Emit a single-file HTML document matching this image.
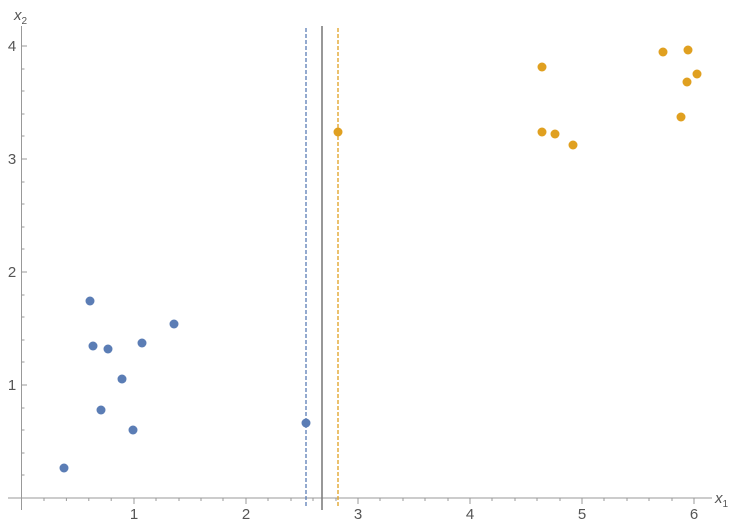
<!DOCTYPE html>
<html><head><style>body{margin:0;background:#fff}svg{display:block}text{font-family:"Liberation Sans",sans-serif;fill:#555}</style></head><body>
<svg width="750" height="525" viewBox="0 0 750 525">
<g stroke="#999" stroke-width="1">
<line x1="8" y1="498" x2="712" y2="498"/>
<line x1="21.5" y1="26" x2="21.5" y2="510"/>
</g>
<g stroke="#999" stroke-width="1" id="ticks"></g>
<g font-size="15" text-anchor="middle">
<text x="134" y="519">1</text><text x="246" y="519">2</text><text x="358" y="519">3</text><text x="470" y="519">4</text><text x="582" y="519">5</text><text x="694" y="519">6</text>
<text x="12" y="390">1</text><text x="12" y="277">2</text><text x="12" y="164">3</text><text x="12" y="51">4</text>
</g>
<text x="14" y="20" font-size="15" font-style="italic">x<tspan font-size="10" dy="4" font-style="normal">2</tspan></text>
<text x="715" y="503" font-size="15" font-style="italic">x<tspan font-size="10" dy="4" font-style="normal">1</tspan></text>
<line x1="306" y1="28" x2="306" y2="508" stroke="#5b7db5" stroke-width="1.3" stroke-dasharray="4,2"/>
<line x1="322" y1="26" x2="322" y2="510" stroke="#777" stroke-width="1.5"/>
<line x1="338" y1="28" x2="338" y2="508" stroke="#e0a020" stroke-width="1.3" stroke-dasharray="4,2"/>
<g fill="#5b7db5">
<circle cx="64" cy="468" r="4.5"/><circle cx="90" cy="301" r="4.5"/><circle cx="93" cy="346" r="4.5"/><circle cx="108" cy="349" r="4.5"/><circle cx="142" cy="343" r="4.5"/><circle cx="174" cy="324" r="4.5"/><circle cx="122" cy="379" r="4.5"/><circle cx="101" cy="410" r="4.5"/><circle cx="133" cy="430" r="4.5"/><circle cx="306" cy="423" r="4.5"/>
</g>
<g fill="#e0a020">
<circle cx="338" cy="132" r="4.5"/><circle cx="542" cy="67" r="4.5"/><circle cx="542" cy="132" r="4.5"/><circle cx="555" cy="134" r="4.5"/><circle cx="573" cy="145" r="4.5"/><circle cx="663" cy="52" r="4.5"/><circle cx="688" cy="50" r="4.5"/><circle cx="697" cy="74" r="4.5"/><circle cx="687" cy="82" r="4.5"/><circle cx="681" cy="117" r="4.5"/>
</g>
<g stroke="#999" stroke-width="1">
<line x1="134" y1="498" x2="134" y2="504"/><line x1="246" y1="498" x2="246" y2="504"/><line x1="358" y1="498" x2="358" y2="504"/><line x1="470" y1="498" x2="470" y2="504"/><line x1="582" y1="498" x2="582" y2="504"/><line x1="694" y1="498" x2="694" y2="504"/>
<line x1="44" y1="498" x2="44" y2="501"/><line x1="66.4" y1="498" x2="66.4" y2="501"/><line x1="88.8" y1="498" x2="88.8" y2="501"/><line x1="111.2" y1="498" x2="111.2" y2="501"/>
<line x1="156" y1="498" x2="156" y2="501"/><line x1="179" y1="498" x2="179" y2="501"/><line x1="201" y1="498" x2="201" y2="501"/><line x1="223" y1="498" x2="223" y2="501"/>
<line x1="268" y1="498" x2="268" y2="501"/><line x1="291" y1="498" x2="291" y2="501"/><line x1="313" y1="498" x2="313" y2="501"/><line x1="336" y1="498" x2="336" y2="501"/>
<line x1="380" y1="498" x2="380" y2="501"/><line x1="403" y1="498" x2="403" y2="501"/><line x1="425" y1="498" x2="425" y2="501"/><line x1="448" y1="498" x2="448" y2="501"/>
<line x1="492" y1="498" x2="492" y2="501"/><line x1="515" y1="498" x2="515" y2="501"/><line x1="537" y1="498" x2="537" y2="501"/><line x1="560" y1="498" x2="560" y2="501"/>
<line x1="604" y1="498" x2="604" y2="501"/><line x1="627" y1="498" x2="627" y2="501"/><line x1="649" y1="498" x2="649" y2="501"/><line x1="672" y1="498" x2="672" y2="501"/>
<line x1="21.5" y1="385" x2="27" y2="385"/><line x1="21.5" y1="272" x2="27" y2="272"/><line x1="21.5" y1="159" x2="27" y2="159"/><line x1="21.5" y1="46" x2="27" y2="46"/>
<line x1="21.5" y1="475" x2="24.5" y2="475"/><line x1="21.5" y1="453" x2="24.5" y2="453"/><line x1="21.5" y1="430" x2="24.5" y2="430"/><line x1="21.5" y1="408" x2="24.5" y2="408"/>
<line x1="21.5" y1="362" x2="24.5" y2="362"/><line x1="21.5" y1="340" x2="24.5" y2="340"/><line x1="21.5" y1="317" x2="24.5" y2="317"/><line x1="21.5" y1="295" x2="24.5" y2="295"/>
<line x1="21.5" y1="249" x2="24.5" y2="249"/><line x1="21.5" y1="227" x2="24.5" y2="227"/><line x1="21.5" y1="204" x2="24.5" y2="204"/><line x1="21.5" y1="182" x2="24.5" y2="182"/>
<line x1="21.5" y1="136" x2="24.5" y2="136"/><line x1="21.5" y1="114" x2="24.5" y2="114"/><line x1="21.5" y1="91" x2="24.5" y2="91"/><line x1="21.5" y1="69" x2="24.5" y2="69"/>
</g>
</svg>
</body></html>
